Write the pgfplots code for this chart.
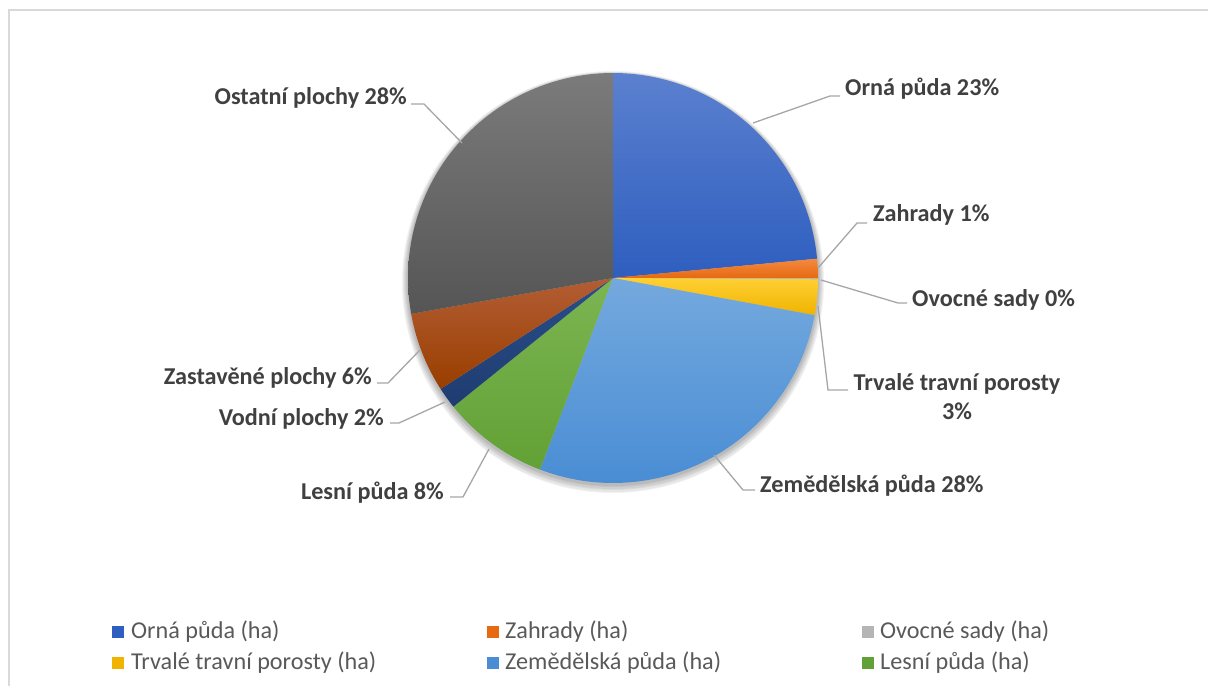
\documentclass[border=0pt]{standalone}
\usepackage{pgfplots}
\pgfplotsset{compat=1.18}
\usepackage{fontspec}
\setmainfont{Carlito}

\definecolor{txt}{HTML}{404040}
\definecolor{legtxt}{HTML}{595959}
\definecolor{lead}{HTML}{A6A6A6}
\definecolor{frame}{HTML}{D9D9D9}
\definecolor{c1t}{HTML}{5B80CF}\definecolor{c1b}{HTML}{2E5EBF}
\definecolor{c2t}{HTML}{F5893F}\definecolor{c2b}{HTML}{E56A12}
\definecolor{c3t}{HTML}{B5B5B5}\definecolor{c3b}{HTML}{969696}
\definecolor{c4t}{HTML}{FFD033}\definecolor{c4b}{HTML}{EFB300}
\definecolor{c5t}{HTML}{74A9DE}\definecolor{c5b}{HTML}{4A8DD4}
\definecolor{c6t}{HTML}{7CB552}\definecolor{c6b}{HTML}{62A135}
\definecolor{c7t}{HTML}{2A4E8A}\definecolor{c7b}{HTML}{1E3C70}
\definecolor{c8t}{HTML}{B35D34}\definecolor{c8b}{HTML}{993E00}
\definecolor{c9t}{HTML}{7B7B7B}\definecolor{c9b}{HTML}{555555}

% shares in percent
\def\vA{23.5}% Orna puda
\def\vB{1.5}%  Zahrady
\def\vC{0.1}%  Ovocne sady
\def\vD{2.8}%  Trvale travni porosty
\def\vE{27.9}% Zemedelska puda
\def\vF{8.4}%  Lesni puda
\def\vG{1.7}%  Vodni plochy
\def\vH{6.3}%  Zastavene plochy
\def\vI{27.8}% Ostatni plochy

\pgfmathsetmacro\aA{0}
\pgfmathsetmacro\aB{\aA+3.6*\vA}
\pgfmathsetmacro\aC{\aB+3.6*\vB}
\pgfmathsetmacro\aD{\aC+3.6*\vC}
\pgfmathsetmacro\aE{\aD+3.6*\vD}
\pgfmathsetmacro\aF{\aE+3.6*\vE}
\pgfmathsetmacro\aG{\aF+3.6*\vF}
\pgfmathsetmacro\aH{\aG+3.6*\vG}
\pgfmathsetmacro\aI{\aH+3.6*\vH}
\pgfmathsetmacro\aJ{\aI+3.6*\vI}

\def\cx{613}\def\cy{278}\def\rr{205}

\newcommand{\pieslice}[4]{%
  \addplot[draw=none, top color=#3, bottom color=#4, domain=#1:#2, samples=60]
    ({\cx+\rr*sin(x)},{\cy-\rr*cos(x)}) -- (axis cs:\cx,\cy) -- cycle;
}

\begin{document}
\begin{tikzpicture}
\begin{axis}[
  width=1208pt, height=686pt, scale only axis,
  xmin=0, xmax=1208, ymin=0, ymax=686, y dir=reverse,
  axis lines=none, ticks=none,
  font=\fontsize{24.2}{28}\selectfont,
]
% frame (bottom and right edges are cut off in the reference)
\draw[frame, line width=1.6pt] (axis cs:9,686) -- (axis cs:9,10) -- (axis cs:1208,10);
% soft shadow
\fill[black, opacity=0.05] (axis cs:613,282) circle[radius=211pt];
\fill[black, opacity=0.05] (axis cs:613,282) circle[radius=210pt];
\fill[black, opacity=0.05] (axis cs:613,281) circle[radius=209pt];
\fill[black, opacity=0.05] (axis cs:613,281) circle[radius=208pt];
\fill[black, opacity=0.05] (axis cs:613,280) circle[radius=207pt];
\fill[black, opacity=0.05] (axis cs:613,280) circle[radius=206pt];
\pieslice{\aA}{\aB}{c1t}{c1b}
\pieslice{\aB}{\aC}{c2t}{c2b}
\pieslice{\aC}{\aD}{c3t}{c3b}
\pieslice{\aD}{\aE}{c4t}{c4b}
\pieslice{\aE}{\aF}{c5t}{c5b}
\pieslice{\aF}{\aG}{c6t}{c6b}
\pieslice{\aG}{\aH}{c7t}{c7b}
\pieslice{\aH}{\aI}{c8t}{c8b}
\pieslice{\aI}{\aJ}{c9t}{c9b}

% leader lines
\draw[lead, line width=1.3pt] (axis cs:753,123) -- (axis cs:830,96) -- (axis cs:840,96);
\draw[lead, line width=1.3pt] (axis cs:818,268) -- (axis cs:857,223) -- (axis cs:867,223);
\draw[lead, line width=1.3pt] (axis cs:821,280) -- (axis cs:898,303) -- (axis cs:907,303);
\draw[lead, line width=1.3pt] (axis cs:818,306) -- (axis cs:828,390) -- (axis cs:848,390);
\draw[lead, line width=1.3pt] (axis cs:714,455) -- (axis cs:743,490) -- (axis cs:755,490);
\draw[lead, line width=1.3pt] (axis cs:489,449) -- (axis cs:463,497) -- (axis cs:450,497);
\draw[lead, line width=1.3pt] (axis cs:445,402) -- (axis cs:399,423) -- (axis cs:390,423);
\draw[lead, line width=1.3pt] (axis cs:420,350) -- (axis cs:388,383) -- (axis cs:377,383);
\draw[lead, line width=1.3pt] (axis cs:462,143) -- (axis cs:424,104) -- (axis cs:411,104);

% data labels
\begin{scope}[every node/.style={text=txt, font=\fontsize{24.2}{29}\selectfont\bfseries, inner sep=0pt}]
\node[anchor=west] at (axis cs:845,89) {Orná půda 23\%};
\node[anchor=west] at (axis cs:873,215) {Zahrady 1\%};
\node[anchor=west] at (axis cs:912,300) {Ovocné sady 0\%};
\node[align=center] at (axis cs:957,397) {Trvalé travní porosty\\3\%};
\node[anchor=west] at (axis cs:760,486) {Zemědělská půda 28\%};
\node[anchor=east] at (axis cs:444,493) {Lesní půda 8\%};
\node[anchor=east] at (axis cs:384,419) {Vodní plochy 2\%};
\node[anchor=east] at (axis cs:372,378) {Zastavěné plochy 6\%};
\node[anchor=east] at (axis cs:407,98) {Ostatní plochy 28\%};
\end{scope}

% legend
\begin{scope}[every node/.style={text=legtxt, font=\fontsize{24.2}{28}\selectfont, inner sep=0pt, anchor=west}]
\fill[c1b] (axis cs:112,626) rectangle (axis cs:124,638);
\node at (axis cs:131,632) {Orná půda (ha)};
\fill[c2b] (axis cs:487,626) rectangle (axis cs:499,638);
\node at (axis cs:505,632) {Zahrady (ha)};
\fill[c3t] (axis cs:862,626) rectangle (axis cs:874,638);
\node at (axis cs:880,632) {Ovocné sady (ha)};
\fill[c4b] (axis cs:112,657) rectangle (axis cs:124,669);
\node at (axis cs:131,663) {Trvalé travní porosty (ha)};
\fill[c5b] (axis cs:487,657) rectangle (axis cs:499,669);
\node at (axis cs:505,663) {Zemědělská půda (ha)};
\fill[c6b] (axis cs:862,657) rectangle (axis cs:874,669);
\node at (axis cs:880,663) {Lesní půda (ha)};
\end{scope}
\end{axis}
\pgfresetboundingbox
\path (current axis.south west) rectangle (current axis.north east);
\end{tikzpicture}
\end{document}
